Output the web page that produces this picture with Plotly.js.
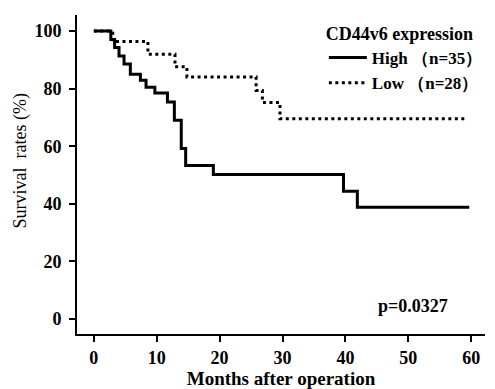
<!DOCTYPE html>
<html>
<head>
<meta charset="utf-8">
<script src="https://cdn.plot.ly/plotly-3.0.1.min.js"></script>
<style>html,body{margin:0;padding:0;background:#fff;}#chart{width:495px;height:389px;}</style>
</head>
<body>
<div id="chart"></div>
<script>
// Kaplan-Meier survival estimates
const highMonths = [0, 2.7, 3.3, 4.0, 4.8, 5.8, 7.4, 8.3, 9.7, 11.7, 12.8, 13.9, 14.6, 19.0, 39.7, 41.9, 59.7];
const highSurvival = [100, 97.1, 94.3, 91.4, 88.6, 85.0, 82.9, 80.5, 78.5, 75.4, 69.0, 59.2, 53.3, 50.2, 44.4, 38.8, 38.8];
const lowMonths = [0, 3.0, 8.6, 12.9, 14.8, 25.8, 26.8, 29.6, 59.2];
const lowSurvival = [100, 96.4, 92.0, 87.6, 84.1, 79.4, 75.2, 69.6, 69.6];
const seriesNames = ['High （n=35）', 'Low （n=28）'];
const legendTitle = 'CD44v6 expression';
const xTicks = [0, 10, 20, 30, 40, 50, 60];
const yTicks = [0, 20, 40, 60, 80, 100];
const pValueText = 'p=0.0327';

const serif = 'Liberation Serif, Times New Roman, serif';
const boldFont = (size) => ({family: serif, size: size, color: '#000', weight: 700});

const traces = [
  {x: highMonths, y: highSurvival, name: seriesNames[0], type: 'scatter', mode: 'lines',
   line: {shape: 'hv', color: '#000', width: 3}},
  {x: lowMonths, y: lowSurvival, name: seriesNames[1], type: 'scatter', mode: 'lines',
   line: {shape: 'hv', color: '#000', width: 3, dash: '3px,3.5px'}}
];

const layout = {
  width: 495, height: 389,
  margin: {l: 77, r: 7, t: 15, b: 55},
  paper_bgcolor: '#fff', plot_bgcolor: '#fff',
  showlegend: true,
  legend: {
    x: 0.605, y: 0.995, xanchor: 'left', yanchor: 'top',
    bgcolor: 'rgba(0,0,0,0)',
    title: {text: '<b>' + legendTitle + '</b>', font: boldFont(18)},
    font: boldFont(17),
    tracegroupgap: 0, itemwidth: 38
  },
  xaxis: {
    range: [-2.68, 62.2], tickvals: xTicks, ticktext: xTicks.map(v => '<b>' + v + '</b>'),
    showgrid: false, zeroline: false, showline: true, linecolor: '#000', linewidth: 2,
    ticks: 'outside', ticklen: 6, tickwidth: 2, tickcolor: '#000',
    tickfont: boldFont(18),
    title: {text: '<b>Months after operation</b>', font: boldFont(19), standoff: 0}
  },
  yaxis: {
    range: [-5.2, 105.6], tickvals: yTicks, ticktext: yTicks.map(v => '<b>' + v + '</b>'),
    showgrid: false, zeroline: false, showline: true, linecolor: '#000', linewidth: 2,
    ticks: 'outside', ticklen: 6, tickwidth: 2, tickcolor: '#000', ticklabelstandoff: 4,
    tickfont: boldFont(18)
  },
  annotations: [
    {text: '<b>' + pValueText + '</b>', x: 50.7, y: 4.6, xref: 'x', yref: 'y', showarrow: false,
     font: boldFont(18)},
    {text: 'Survival  rates (%)', textangle: -90, x: 21, y: 161, xref: 'paper', yref: 'paper',
     showarrow: false, font: {family: serif, size: 18, color: '#000'}}
  ]
};
// place the y-axis title annotation using pixel positions converted to paper coordinates
(function(){
  const pw = 495 - 77 - 7, ph = 389 - 15 - 55;
  const a = layout.annotations[1];
  a.x = (a.x - 77) / pw; a.y = (389 - 55 - a.y) / ph;
  a.xanchor = 'center'; a.yanchor = 'middle';
})();

Plotly.newPlot('chart', traces, layout, {displayModeBar: false, staticPlot: true});
</script>
</body>
</html>
